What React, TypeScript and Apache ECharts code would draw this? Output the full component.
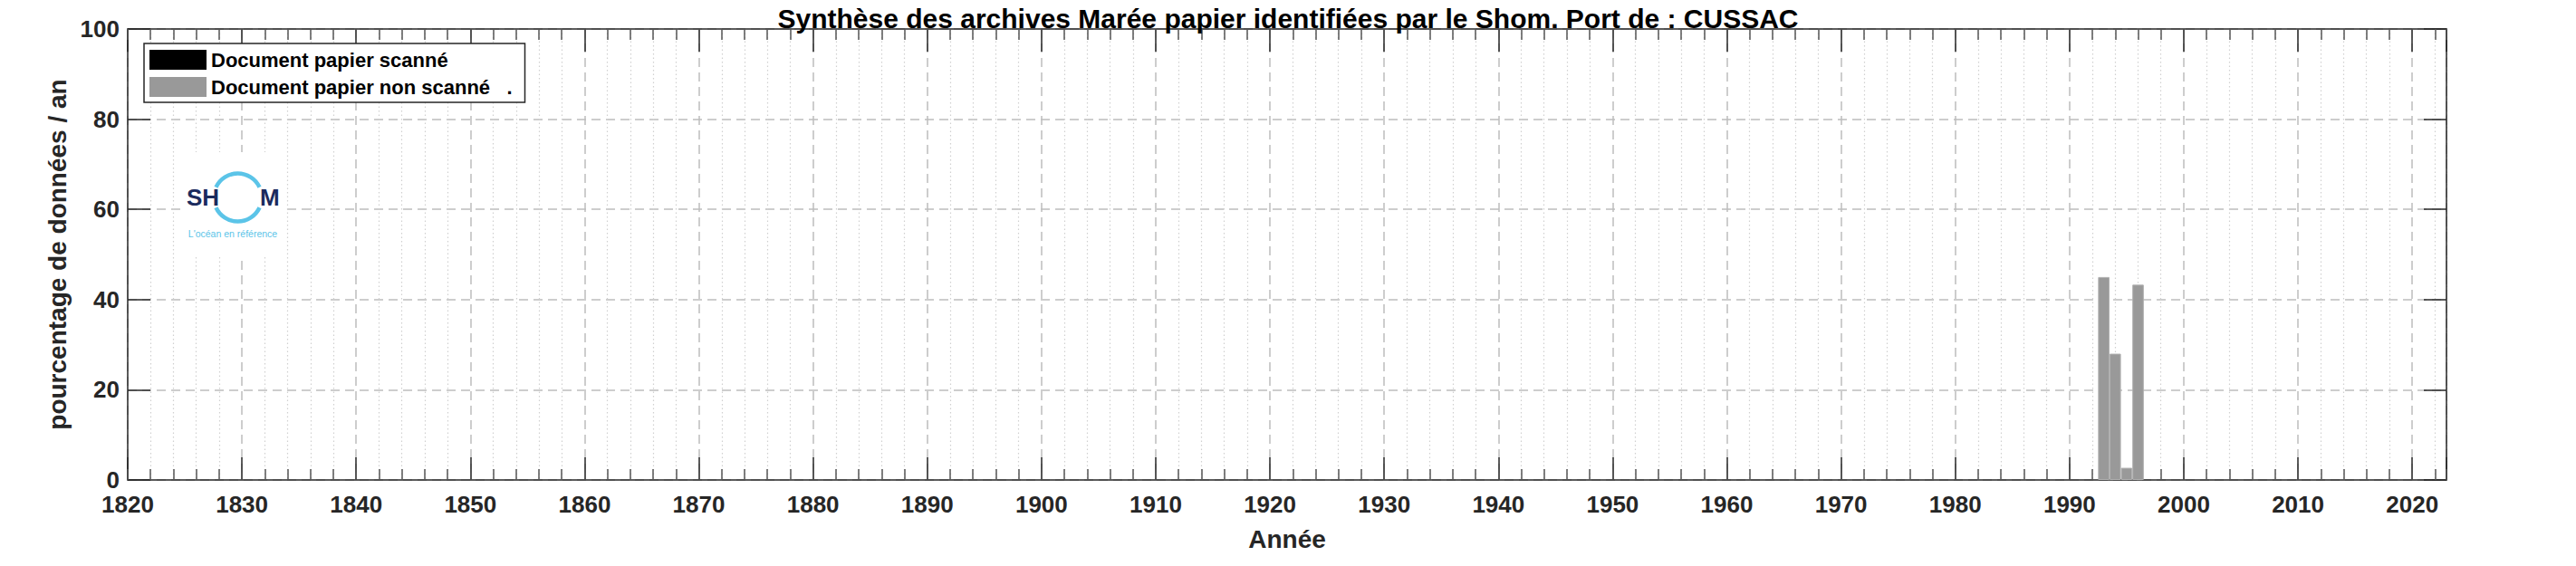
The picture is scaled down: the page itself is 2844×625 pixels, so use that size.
import React, { useEffect, useRef } from 'react';
import * as echarts from 'echarts';

// ---- data ----
const years = [1993, 1994, 1995, 1996];
const scannedValues = [0, 0, 0, 0];
const nonScannedValues = [45, 28, 2.7, 43.3];
const xMin = 1820;
const xMax = 2023;
const xMajorStep = 10;
const xMinorStep = 2;
const yMin = 0;
const yMax = 100;
const yStep = 20;
const titleText = 'Synthèse des archives Marée papier identifiées par le Shom. Port de : CUSSAC';
const legendNames = ['Document papier scanné', 'Document papier non scanné   .'];
const xName = 'Année';
const yName = 'pourcentage de données / an';

const FONT = '"Liberation Sans", Arial, Helvetica, sans-serif';
const TXT = '#262626';
const MAJOR_GRID = '#bdbdbd';
const MINOR_GRID = '#d0d0d0';

export default function App() {
  const ref = useRef<HTMLDivElement>(null);

  useEffect(() => {
    document.body.style.margin = '0';
    document.body.style.overflow = 'hidden';
    if (!ref.current) return;
    const chart = echarts.init(ref.current, null, { renderer: 'svg' });

    const deg = (d: number) => (d * Math.PI) / 180;
    const T = 'rgba(0,0,0,0)';

    const option: any = {
      animation: false,
      backgroundColor: '#ffffff',
      textStyle: { fontFamily: FONT },
      title: {
        text: titleText,
        left: 'center',
        top: 0,
        textStyle: { fontFamily: FONT, fontSize: 30, fontWeight: 'bold', color: '#000', lineHeight: 30 },
      },
      grid: { left: 141, right: 143, top: 32, bottom: 95, containLabel: false },
      legend: {
        orient: 'vertical',
        left: 159,
        top: 48,
        padding: [7, 14, 6, 6],
        itemGap: 8,
        itemWidth: 63,
        itemHeight: 22,
        borderColor: TXT,
        borderWidth: 1.5,
        backgroundColor: '#fff',
        itemStyle: { borderWidth: 0 },
        textStyle: { fontFamily: FONT, fontSize: 22, fontWeight: 'bold', color: '#000' },
        data: legendNames.map((n) => ({ name: n, icon: 'rect' })),
        z: 20,
      },
      xAxis: [
        {
          type: 'value',
          position: 'bottom',
          min: xMin,
          max: xMax,
          interval: xMajorStep,
          name: xName,
          nameLocation: 'middle',
          nameGap: 51,
          nameTextStyle: { fontFamily: FONT, fontSize: 28, fontWeight: 'bold', color: TXT },
          axisLine: { show: true, onZero: false, lineStyle: { color: TXT, width: 1.5 } },
          axisTick: { show: true, inside: true, length: 25, lineStyle: { color: TXT, width: 1.5 } },
          axisLabel: {
            show: true,
            margin: 14,
            fontFamily: FONT,
            fontSize: 26,
            fontWeight: 'bold',
            color: TXT,
            formatter: (v: number) => (v % xMajorStep === 0 ? String(v) : ''),
          },
          splitLine: { show: true, lineStyle: { color: MAJOR_GRID, width: 1.5, type: [10, 6] } },
        },
        {
          type: 'value',
          position: 'bottom',
          min: xMin,
          max: xMax,
          interval: xMinorStep,
          axisLine: { show: false, onZero: false },
          axisTick: { show: true, inside: true, length: 12, lineStyle: { color: '#555', width: 1.5 } },
          axisLabel: { show: false },
          splitLine: { show: true, lineStyle: { color: [T, MINOR_GRID, MINOR_GRID, MINOR_GRID, MINOR_GRID], width: 1.2, type: [1.5, 3] } },
        },
        {
          type: 'value',
          position: 'top',
          min: xMin,
          max: xMax,
          interval: xMajorStep,
          axisLine: { show: true, onZero: false, lineStyle: { color: TXT, width: 1.5 } },
          axisTick: { show: true, inside: true, length: 25, lineStyle: { color: TXT, width: 1.5 } },
          axisLabel: { show: false },
          splitLine: { show: false },
        },
        {
          type: 'value',
          position: 'top',
          min: xMin,
          max: xMax,
          interval: xMinorStep,
          axisLine: { show: false, onZero: false },
          axisTick: { show: true, inside: true, length: 12, lineStyle: { color: '#555', width: 1.5 } },
          axisLabel: { show: false },
          splitLine: { show: false },
        },
      ],
      yAxis: [
        {
          type: 'value',
          position: 'left',
          min: yMin,
          max: yMax,
          interval: yStep,
          name: yName,
          nameLocation: 'middle',
          nameGap: 54,
          nameTextStyle: { fontFamily: FONT, fontSize: 28, fontWeight: 'bold', color: TXT },
          axisLine: { show: true, onZero: false, lineStyle: { color: TXT, width: 1.5 } },
          axisTick: { show: true, inside: true, length: 25, lineStyle: { color: TXT, width: 1.5 } },
          axisLabel: { show: true, margin: 9, fontFamily: FONT, fontSize: 26, fontWeight: 'bold', color: TXT },
          splitLine: { show: true, lineStyle: { color: MAJOR_GRID, width: 1.5, type: [10, 6] } },
        },
        {
          type: 'value',
          position: 'right',
          min: yMin,
          max: yMax,
          interval: yStep,
          axisLine: { show: true, onZero: false, lineStyle: { color: TXT, width: 1.5 } },
          axisTick: { show: true, inside: true, length: 25, lineStyle: { color: TXT, width: 1.5 } },
          axisLabel: { show: false },
          splitLine: { show: false },
        },
      ],
      series: [
        {
          name: legendNames[0],
          type: 'bar',
          stack: 'docs',
          xAxisIndex: 0,
          yAxisIndex: 0,
          barWidth: '100%',
          itemStyle: { color: '#000000', borderWidth: 0 },
          data: years.map((y, i) => [y, scannedValues[i]]),
        },
        {
          name: legendNames[1],
          type: 'bar',
          stack: 'docs',
          xAxisIndex: 0,
          yAxisIndex: 0,
          barWidth: '100%',
          itemStyle: { color: '#999999', borderColor: '#b0b0b0', borderWidth: 1 },
          data: years.map((y, i) => [y, nonScannedValues[i]]),
        },
      ],
      graphic: [
        { type: 'rect', z: 10, shape: { x: 200, y: 168, width: 111, height: 114 }, style: { fill: '#ffffff' } },
        {
          type: 'text', z: 11, x: 206, y: 218,
          style: { text: 'SH', fill: '#1b2b5e', font: `bold 26px ${FONT}`, align: 'left', verticalAlign: 'middle' },
        },
        {
          type: 'text', z: 11, x: 287, y: 218,
          style: { text: 'M', fill: '#1b2b5e', font: `bold 26px ${FONT}`, align: 'left', verticalAlign: 'middle' },
        },
        {
          type: 'arc', z: 11,
          shape: { cx: 262.5, cy: 218, r: 26.5, startAngle: deg(-155), endAngle: deg(-25), clockwise: true },
          style: { stroke: '#5bc4e8', lineWidth: 4.5, fill: null },
        },
        {
          type: 'arc', z: 11,
          shape: { cx: 262.5, cy: 218, r: 26.5, startAngle: deg(25), endAngle: deg(155), clockwise: true },
          style: { stroke: '#5bc4e8', lineWidth: 4.5, fill: null },
        },
        {
          type: 'text', z: 11, x: 257, y: 258,
          style: { text: "L'océan en référence", fill: '#5bc4e8', font: `10.5px ${FONT}`, align: 'center', verticalAlign: 'middle' },
        },
      ],
    };

    chart.setOption(option);
    return () => chart.dispose();
  }, []);

  return <div ref={ref} style={{ width: 2844, height: 625 }} />;
}
